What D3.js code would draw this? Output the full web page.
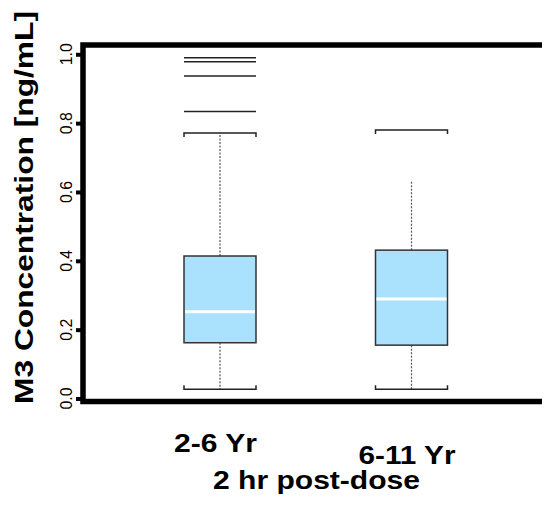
<!DOCTYPE html>
<html>
<head>
<meta charset="utf-8">
<script src="https://cdn.jsdelivr.net/npm/d3@7"></script>
<style>
  html, body { margin: 0; padding: 0; background: #fff; }
  svg { display: block; }
  text { font-family: "Liberation Sans", Arial, sans-serif; fill: #000; }
</style>
</head>
<body>
<script>
// ---- data ----
const categories = ["2-6 Yr", "6-11 Yr"];
const q1 = [0.162, 0.155];
const medians = [0.252, 0.289];
const q3 = [0.414, 0.431];
const whiskerLow = [0.027, 0.027];
const whiskerHigh = [0.771, 0.780];
const whiskerDrawnTo = [0.771, 0.630]; // visible extent of the dotted whisker
const outliers = [[0.990, 0.978, 0.937, 0.834], []];
const yTicks = [0.0, 0.2, 0.4, 0.6, 0.8, 1.0];
const yTitle = "M3 Concentration [ng/mL]";
const xTitle = "2 hr post-dose";

const W = 542, H = 514;
const svg = d3.select("body").append("svg").attr("width", W).attr("height", H);

const y = d3.scaleLinear().domain([0, 1]).range([398.5, 54.3]);
const x = d3.scalePoint().domain(categories).range([220, 411.5]);
const boxW = 72;

// frame
svg.append("rect")
  .attr("x", 83).attr("y", 45).attr("width", 470).attr("height", 356.5)
  .attr("fill", "none").attr("stroke", "#000").attr("stroke-width", 5.5);

// y axis ticks and labels
const axis = d3.axisLeft(y).tickValues(yTicks).tickSize(5).tickFormat(d3.format(".1f"));
const gAxis = svg.append("g").attr("transform", "translate(81,0)").call(axis);
gAxis.select(".domain").remove();
gAxis.selectAll(".tick line").attr("stroke", "#000").attr("stroke-width", 4);
gAxis.selectAll(".tick text").remove();
yTicks.forEach(t => {
  svg.append("text")
    .attr("transform", `translate(71.5,${y(t)}) rotate(-90)`)
    .attr("text-anchor", "middle")
    .attr("font-size", 17)
    .attr("textLength", 22).attr("lengthAdjust", "spacingAndGlyphs")
    .text(d3.format(".1f")(t));
});

// y title
svg.append("text")
  .attr("transform", "translate(33,207.5) rotate(-90)")
  .attr("text-anchor", "middle")
  .attr("font-size", 25).attr("font-weight", "bold")
  .attr("textLength", 393).attr("lengthAdjust", "spacingAndGlyphs")
  .text(yTitle);

// boxes
const capTick = 4;
categories.forEach((c, i) => {
  const cx = x(c);
  const g = svg.append("g");
  // whiskers (dotted)
  g.append("line").attr("x1", cx).attr("x2", cx)
    .attr("y1", y(q3[i])).attr("y2", y(whiskerDrawnTo[i]))
    .attr("stroke", "#555").attr("stroke-width", 1.2).attr("stroke-dasharray", "2,1.5");
  g.append("line").attr("x1", cx).attr("x2", cx)
    .attr("y1", y(q1[i])).attr("y2", y(whiskerLow[i]))
    .attr("stroke", "#555").attr("stroke-width", 1.2).attr("stroke-dasharray", "2,1.5");
  // caps with bracket ends
  const yh = y(whiskerHigh[i]), yl = y(whiskerLow[i]);
  g.append("path")
    .attr("d", `M${cx - boxW/2},${yh + capTick}V${yh}H${cx + boxW/2}V${yh + capTick}`)
    .attr("fill", "none").attr("stroke", "#222").attr("stroke-width", 1.5);
  g.append("path")
    .attr("d", `M${cx - boxW/2},${yl - capTick}V${yl}H${cx + boxW/2}V${yl - capTick}`)
    .attr("fill", "none").attr("stroke", "#222").attr("stroke-width", 1.5);
  // box
  g.append("rect")
    .attr("x", cx - boxW/2).attr("y", y(q3[i]))
    .attr("width", boxW).attr("height", y(q1[i]) - y(q3[i]))
    .attr("fill", "#aae1fc").attr("stroke", "#333").attr("stroke-width", 1.5);
  // median
  g.append("line")
    .attr("x1", cx - boxW/2 + 1).attr("x2", cx + boxW/2 - 1)
    .attr("y1", y(medians[i])).attr("y2", y(medians[i]))
    .attr("stroke", "#fff").attr("stroke-width", 3);
  // outliers drawn as horizontal lines
  outliers[i].forEach(v => {
    g.append("line")
      .attr("x1", cx - boxW/2).attr("x2", cx + boxW/2)
      .attr("y1", y(v)).attr("y2", y(v))
      .attr("stroke", "#222").attr("stroke-width", 1.5);
  });
});

// category labels
const labelDy = [452, 464];
const labelLen = [83, 97];
categories.forEach((c, i) => {
  svg.append("text")
    .attr("x", x(c) - 4.5).attr("y", labelDy[i])
    .attr("text-anchor", "middle")
    .attr("font-size", 25).attr("font-weight", "bold")
    .attr("textLength", labelLen[i]).attr("lengthAdjust", "spacingAndGlyphs")
    .text(c);
});

// x title
svg.append("text")
  .attr("x", 316.5).attr("y", 489)
  .attr("text-anchor", "middle")
  .attr("font-size", 25).attr("font-weight", "bold")
  .attr("textLength", 207).attr("lengthAdjust", "spacingAndGlyphs")
  .text(xTitle);
</script>
</body>
</html>
